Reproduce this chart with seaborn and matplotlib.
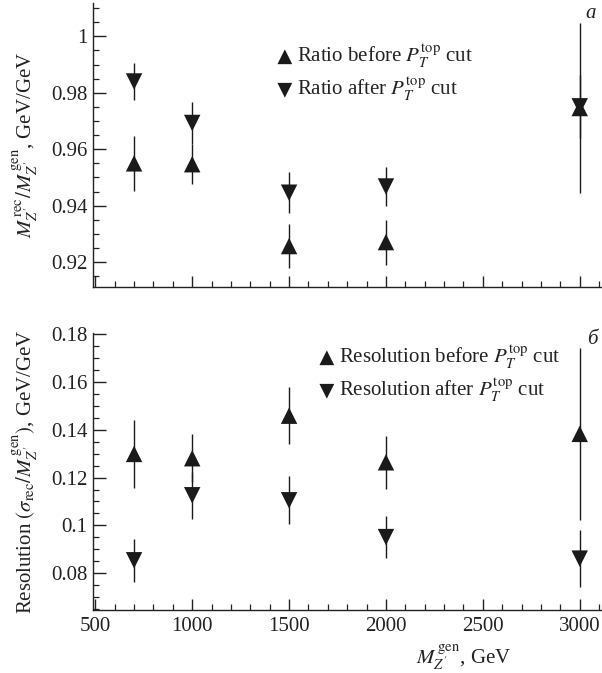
import numpy as np
import pandas as pd
import matplotlib
matplotlib.use("Agg")
import matplotlib.pyplot as plt
import seaborn as sns
from matplotlib.ticker import MultipleLocator, FuncFormatter

# ---- data ----
mass = [700, 1000, 1500, 2000, 3000]
ratio_before = [0.955, 0.9547, 0.9257, 0.9271, 0.9746]
ratio_before_err = [0.0098, 0.0071, 0.0078, 0.0080, 0.0300]
ratio_after = [0.984, 0.9693, 0.9446, 0.9468, 0.9752]
ratio_after_err = [0.0067, 0.0075, 0.0073, 0.0069, 0.0112]
res_before = [0.1299, 0.1281, 0.1459, 0.1264, 0.1383]
res_before_err = [0.0144, 0.0100, 0.0120, 0.0112, 0.0360]
res_after = [0.0854, 0.1126, 0.1105, 0.0951, 0.0861]
res_after_err = [0.0090, 0.0099, 0.0101, 0.0087, 0.0118]
xticks = [500, 1000, 1500, 2000, 2500, 3000]

FS = 15
sns.set_theme(style="ticks")
plt.rcParams.update({
    "font.family": ["Liberation Serif", "DejaVu Serif"],
    "mathtext.fontset": "stix",
    "font.size": FS,
    "axes.labelsize": FS,
    "xtick.labelsize": FS,
    "ytick.labelsize": FS,
    "legend.fontsize": FS,
    "axes.linewidth": 1.0,
    "xtick.direction": "in",
    "ytick.direction": "in",
    "xtick.major.size": 8,
    "ytick.major.size": 9,
    "xtick.minor.size": 4.5,
    "ytick.minor.size": 4.5,
    "xtick.major.width": 1.0,
    "ytick.major.width": 1.0,
    "xtick.minor.width": 0.9,
    "ytick.minor.width": 0.9,
    "xtick.major.pad": 5,
    "ytick.major.pad": 4,
    "xtick.color": "#222222",
    "ytick.color": "#222222",
    "axes.edgecolor": "#222222",
    "text.color": "#222222",
    "axes.labelcolor": "#222222",
})

W, H = 602, 673
fig = plt.figure(figsize=(W / 100, H / 100), dpi=100)
ax1 = fig.add_axes([93 / W, 1 - 287 / H, 509 / W, 284 / H])
ax2 = fig.add_axes([93 / W, 1 - 610 / H, 509 / W, 277 / H])

df1 = pd.DataFrame({"m": mass, "before": ratio_before, "after": ratio_after})
df2 = pd.DataFrame({"m": mass, "before": res_before, "after": res_after})

col = "#1a1a1a"
ms = 140


def panel(ax, df, eb, ea, lb, la):
    ax.errorbar(df["m"], df["before"], yerr=eb, fmt="none", ecolor=col, elinewidth=1.0, capsize=0)
    ax.errorbar(df["m"], df["after"], yerr=ea, fmt="none", ecolor=col, elinewidth=1.0, capsize=0)
    sns.scatterplot(data=df, x="m", y="before", marker="^", s=ms, color=col, edgecolor="none",
                    ax=ax, label=lb, zorder=3)
    sns.scatterplot(data=df, x="m", y="after", marker="v", s=ms, color=col, edgecolor="none",
                    ax=ax, label=la, zorder=3)
    sns.despine(ax=ax)
    ax.set_xlim(488, 3115)
    ax.xaxis.set_major_locator(MultipleLocator(500))
    ax.xaxis.set_minor_locator(MultipleLocator(100))
    ax.yaxis.set_minor_locator(MultipleLocator(0.005))
    ax.yaxis.set_major_locator(MultipleLocator(0.02))
    ax.yaxis.set_major_formatter(FuncFormatter(lambda v, p: ("%.2f" % v).rstrip("0").rstrip(".")))
    ax.tick_params(axis="y", which="both", left=True)
    ax.set_xlabel("")


panel(ax1, df1, ratio_before_err, ratio_after_err,
      r"Ratio before $P_T^{\rm top}$ cut", r"Ratio after $P_T^{\rm top}$ cut")
panel(ax2, df2, res_before_err, res_after_err,
      r"Resolution before $P_T^{\rm top}$ cut", r"Resolution after $P_T^{\rm top}$ cut")

ax1.set_ylim(0.9112, 1.0118)
ax1.set_xticks(xticks)
ax1.set_xticklabels([])
ax2.set_ylim(0.0646, 0.1805)
ax2.set_xticks(xticks)
ax2.set_xticklabels([str(t) for t in xticks])

ax1.set_ylabel(r"$M_{Z'}^{\,\rm rec}/M_{Z'}^{\,\rm gen}$, GeV/GeV")
ax2.set_ylabel(r"Resolution $(\sigma_{\rm rec}/M_{Z'}^{\,\rm gen})$, GeV/GeV")
ax1.yaxis.set_label_coords(-0.105, 0.5)
ax2.yaxis.set_label_coords(-0.105, 0.5)
ax2.set_xlabel(r"$M_{Z'}^{\,\rm gen}$, GeV")
ax2.xaxis.set_label_coords((464 - 93) / 509, -0.12)

for ax, anchor in ((ax1, ((264 - 93) / 509, (287 - 33) / 284)), (ax2, ((306 - 93) / 509, (610 - 334) / 277))):
    ax.legend(loc="upper left", bbox_to_anchor=anchor, frameon=False, handletextpad=0.0,
              handlelength=1.2, borderaxespad=0, labelspacing=0.25, markerscale=0.9)

fig.text(596 / W, 1 - 14 / H, "a", style="italic", ha="right", va="center", fontsize=FS)
fig.text(598 / W, 1 - 340 / H, "б", style="italic", ha="right", va="center", fontsize=FS)

fig.savefig("out.png", dpi=100)
